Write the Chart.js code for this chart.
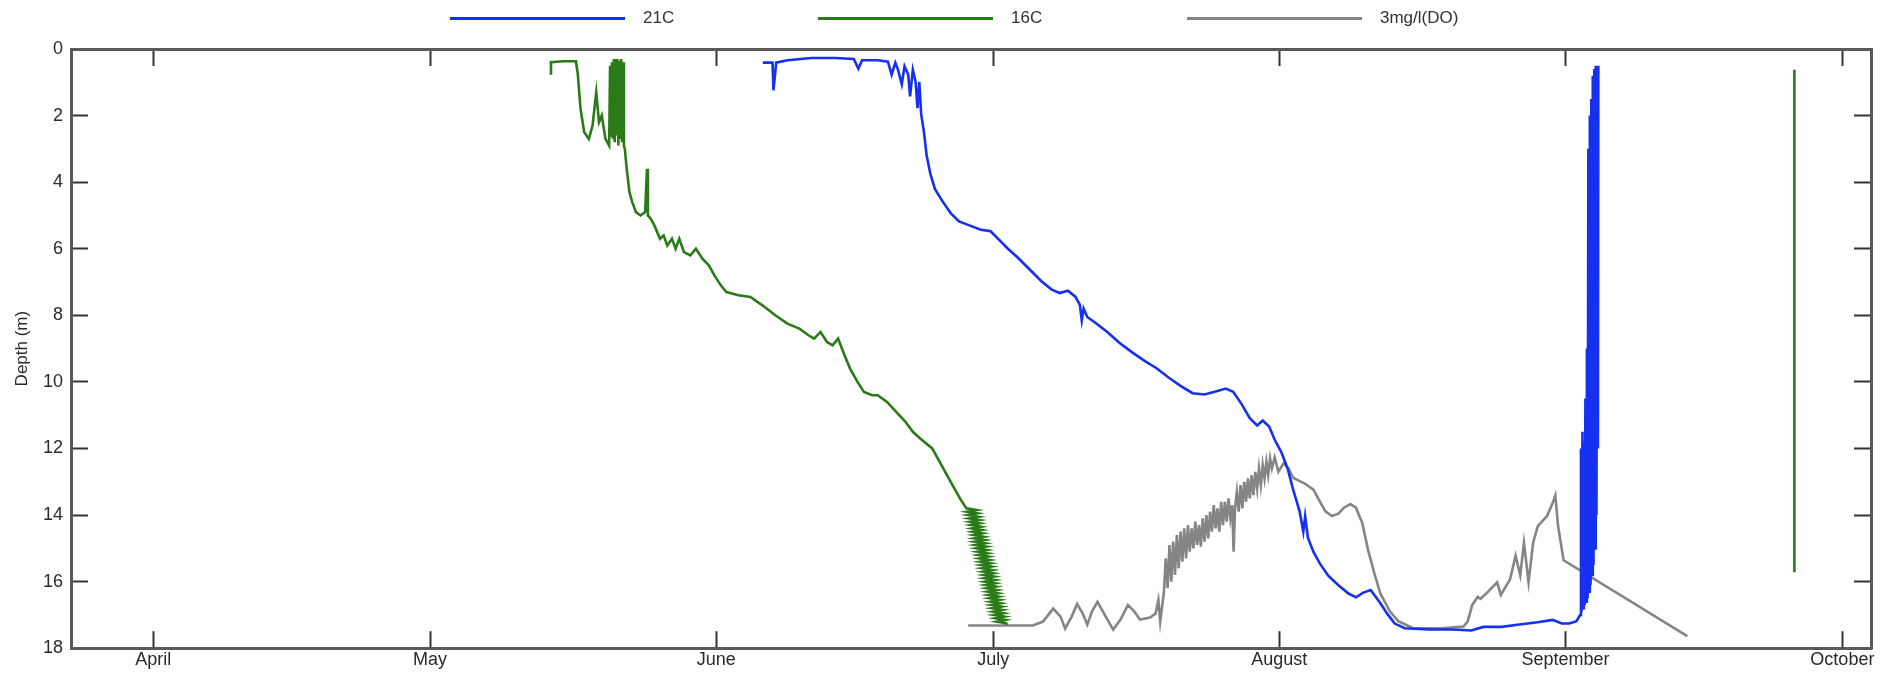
<!DOCTYPE html>
<html>
<head>
<meta charset="utf-8">
<script src="https://cdn.jsdelivr.net/npm/chart.js@4/dist/chart.umd.min.js"></script>
<style>
  body { margin: 0; background: #fff; }
  #wrap { position: relative; width: 1898px; height: 684px; }
  #legend { position: absolute; left: 0; top: 0; width: 1898px; height: 40px; }
  #legend .item {
    position: absolute; top: 8px; height: 20px;
    display: flex; align-items: center;
    font: 17px "Liberation Sans", Arial, sans-serif; color: #333;
  }
  #legend .swatch { display: inline-block; width: 175px; height: 3px; margin-right: 18px; }
</style>
</head>
<body>
<div id="wrap">
  <canvas id="depthChart" width="1898" height="684"></canvas>
  <div id="legend"></div>
</div>
<script>
// x values are days since 1 April
const monthStarts = [0, 30, 61, 91, 122, 153, 183];
const monthLabels = ["April", "May", "June", "July", "August", "September", "October"];
const depthTicks = [0, 2, 4, 6, 8, 10, 12, 14, 16, 18];

const seriesLabels = ["21C", "16C", "3mg/l(DO)"];
const seriesColors = ["#1530ee", "#2a7a18", "#858585"];

const blue21Days = [66.05, 67.1, 67.2, 67.5, 68.7, 71.3, 73.9, 75.9, 76.4, 76.8, 78.5, 79.6, 80.0, 80.4, 80.7, 81.1, 81.4, 81.8, 82.0, 82.3, 82.6, 82.8, 83.0, 83.2, 83.5, 83.8, 84.2, 84.7, 85.5, 86.4, 87.3, 88.35, 89.67, 90.7, 91.6, 92.6, 93.6, 94.9, 96.2, 97.3, 98.2, 99.1, 99.9, 100.4, 100.6, 100.8, 101.2, 102.1, 103.4, 104.7, 106.1, 107.4, 108.7, 110.0, 111.3, 112.6, 113.9, 115.3, 116.2, 117.0, 117.9, 118.8, 119.6, 120.2, 120.9, 121.5, 122.2, 122.9, 123.5, 124.2, 124.6, 124.8, 125.1, 125.7, 126.4, 127.3, 128.4, 129.5, 130.3, 131.1, 131.9, 132.95, 133.7, 134.5, 135.6, 138.2, 140.8, 142.8, 144.1, 146.1, 148.0, 150.0, 151.6, 152.6, 153.4, 154.2,
  154.6, 154.68, 154.76, 154.84, 154.92, 155.0, 155.08, 155.16, 155.24, 155.32, 155.4, 155.48, 155.56, 155.64, 155.72, 155.8, 155.88, 155.96, 156.04, 156.12, 156.2, 156.28, 156.36, 156.44, 156.52, 156.56];
const blue21Depth = [0.41, 0.41, 1.24, 0.41, 0.34, 0.27, 0.27, 0.30, 0.59, 0.34, 0.34, 0.38, 0.77, 0.41, 0.63, 1.06, 0.52, 0.77, 1.42, 0.63, 0.99, 1.78, 0.99, 1.95, 2.49, 3.21, 3.75, 4.21, 4.57, 4.93, 5.18, 5.29, 5.43, 5.47, 5.72, 6.0, 6.25, 6.61, 6.97, 7.22, 7.33, 7.26, 7.44, 7.69, 8.15, 7.8, 8.05, 8.23, 8.51, 8.83, 9.12, 9.37, 9.59, 9.87, 10.12, 10.34, 10.38, 10.27, 10.2, 10.3, 10.66, 11.09, 11.31, 11.16, 11.34, 11.74, 12.1, 12.6, 13.24, 13.89, 14.5, 14.03, 14.68, 15.11, 15.46, 15.82, 16.11, 16.36, 16.47, 16.33, 16.25, 16.65, 16.97, 17.26, 17.4, 17.44, 17.44, 17.47, 17.36, 17.36, 17.29, 17.22, 17.15, 17.26, 17.26, 17.19,
  17.0, 12.0, 16.9, 11.5, 16.8, 11.8, 16.7, 10.5, 16.6, 9.0, 16.5, 3.0, 16.3, 2.0, 16.1, 1.5, 15.8, 0.8, 15.5, 0.6, 15.0, 0.5, 14.0, 0.5, 12.0, 0.5];

const green16Days = [43.1, 43.1, 44.4, 45.8, 46.0, 46.3, 46.7, 47.2, 47.6, 48.0, 48.3, 48.6, 49.0,
  49.4, 49.5, 49.6, 49.7, 49.8, 49.9, 50.0, 50.1, 50.2, 50.3, 50.4, 50.5, 50.6, 50.7, 50.8, 50.9, 51.0,
  51.1, 51.3, 51.6, 51.9, 52.3, 52.8, 53.3, 53.5, 53.6, 53.9, 54.3, 54.9, 55.3, 55.7, 56.2, 56.6, 57.0, 57.5, 58.2, 58.8, 59.5, 60.2, 60.8, 61.5, 62.1, 63.4, 64.7, 66.0, 67.4, 68.7, 70.0, 71.0, 71.6, 72.3, 73.0, 73.6, 74.2, 74.9, 75.5, 76.3, 77.0, 77.9, 78.5, 79.5, 80.5, 81.5, 82.3, 83.1, 84.4, 85.4, 86.4, 87.4,
  88.1, 89.2, 88.2, 89.3, 88.3, 89.4, 88.4, 89.5, 88.5, 89.55, 88.6, 89.65, 88.7, 89.75, 88.8, 89.85, 88.9, 89.95, 88.95, 90.05, 89.0, 90.15, 89.1, 90.25, 89.2, 90.3, 89.3, 90.4, 89.4, 90.5, 89.5, 90.6, 89.6, 90.7, 89.7, 90.8, 89.8, 90.9, 89.9, 91.0, 90.0, 91.1, 90.05, 91.15, 90.1, 91.2, 90.2, 91.3, 90.3, 91.4, 90.4, 91.5, 90.5, 91.6, 90.6, 91.7, 90.7, 91.8, 90.8, 91.9, 90.9, 92.0, 91.0, 92.1, 91.1, 92.2, 91.25, 92.3, 91.4, 92.4, 92.5,
  135, 177.8, 177.8];
const green16Depth = [0.77, 0.40, 0.37, 0.37, 0.75, 1.8, 2.5, 2.7, 2.3, 1.3, 2.2, 2.0, 2.7,
  2.9, 0.5, 2.6, 0.4, 2.7, 0.3, 2.8, 0.3, 2.6, 0.3, 2.9, 0.35, 2.7, 0.3, 2.8, 0.4, 2.9,
  3.0, 3.6, 4.3, 4.6, 4.9, 5.0, 4.9, 3.6, 5.0, 5.1, 5.3, 5.7, 5.6, 5.9, 5.7, 6.0, 5.7, 6.1, 6.2, 6.0, 6.3, 6.5, 6.8, 7.1, 7.3, 7.4, 7.45, 7.7, 8.0, 8.25, 8.4, 8.6, 8.7, 8.5, 8.8, 8.9, 8.7, 9.2, 9.6, 10.0, 10.3, 10.4, 10.4, 10.6, 10.9, 11.2, 11.5, 11.7, 12.0, 12.5, 13.0, 13.5,
  13.8, 13.85, 13.9, 13.95, 14.0, 14.05, 14.1, 14.15, 14.2, 14.25, 14.3, 14.35, 14.4, 14.45, 14.5, 14.55, 14.6, 14.65, 14.7, 14.75, 14.8, 14.85, 14.9, 14.95, 15.0, 15.05, 15.1, 15.15, 15.2, 15.25, 15.3, 15.35, 15.4, 15.45, 15.5, 15.55, 15.6, 15.65, 15.7, 15.75, 15.8, 15.85, 15.9, 15.95, 16.0, 16.05, 16.1, 16.15, 16.2, 16.25, 16.3, 16.35, 16.4, 16.45, 16.5, 16.55, 16.6, 16.65, 16.7, 16.75, 16.8, 16.85, 16.9, 16.95, 17.0, 17.05, 17.1, 17.15, 17.2, 17.25, 17.3,
  null, 0.62, 15.72];

const grayDoDays = [88.3, 91.8, 95.3, 96.4, 97.5, 98.3, 98.8, 99.5, 100.1, 100.7, 101.2, 101.7, 102.3, 103.2, 104.0, 104.8, 105.6, 106.3, 106.9, 108.0, 108.6, 108.9, 109.1, 109.5,
  109.7, 109.9, 110.1, 110.3, 110.5, 110.7, 110.9, 111.1, 111.3, 111.5, 111.7, 111.9, 112.1, 112.3, 112.5, 112.7, 112.9, 113.1, 113.3, 113.5, 113.7, 113.9, 114.1, 114.3, 114.5, 114.7, 114.9, 115.1, 115.3, 115.5, 115.7, 115.9, 116.1, 116.3, 116.5, 116.7, 116.9,
  117.05,
  117.2, 117.4, 117.6, 117.8, 118.0, 118.2, 118.4, 118.6, 118.8, 119.0, 119.2, 119.4, 119.6, 119.8, 120.0, 120.2, 120.4, 120.6, 120.8, 121.0, 121.2,
  121.5, 121.9,
  122.46, 123.0, 123.5, 124.0, 124.8, 125.7, 126.4, 127.0, 127.7, 128.4, 129.0, 129.7, 130.3, 131.0, 131.6, 132.3, 132.95, 134.0, 134.9, 136.5, 139.5, 141.95, 142.4, 142.9, 143.5, 143.8, 144.6, 145.6, 146.0, 147.0, 147.6, 148.1, 148.5, 149.0, 149.5, 150.0, 150.3, 151.0, 151.6, 151.9, 152.2, 152.8, 166.2];
const grayDoDepth = [17.32, 17.32, 17.32, 17.2, 16.81, 17.05, 17.41, 17.05, 16.67, 16.96, 17.29, 16.9, 16.61, 17.05, 17.44, 17.14, 16.7, 16.9, 17.14, 17.08, 16.96, 16.55, 17.2, 16.31,
  15.3, 16.2, 14.9, 16.0, 14.8, 15.8, 14.6, 15.6, 14.5, 15.4, 14.4, 15.3, 14.3, 15.1, 14.4, 15.0, 14.2, 14.9, 14.3, 14.95, 14.1, 14.8, 14.0, 14.7, 13.9, 14.5, 13.7, 14.4, 13.8, 14.5, 13.6, 14.3, 13.6, 14.2, 13.5, 14.1, 13.7,
  15.1,
  13.8, 13.3, 13.9, 13.1, 13.8, 13.0, 13.6, 12.9, 13.5, 12.8, 13.4, 12.7, 13.2, 12.6, 13.1, 12.5, 12.9, 12.4, 12.8, 12.3, 12.6,
  12.27, 12.7,
  12.45, 12.6, 12.88, 12.95, 13.06, 13.24, 13.6, 13.89, 14.03, 13.96, 13.78, 13.67, 13.78, 14.25, 15.03, 15.75, 16.36, 16.9, 17.19, 17.4, 17.4, 17.35, 17.2, 16.7, 16.46, 16.52, 16.31, 16.02, 16.4, 15.93, 15.22, 15.81, 14.83, 16.02, 14.83, 14.33, 14.24, 14.03, 13.65, 13.41, 14.33, 15.36, 17.64];

const toPoints = (days, depths) => days.map((d, i) => ({ x: d, y: depths[i] }));

// html legend: line then label
const legendLeft = [450, 818, 1187];
const legendEl = document.getElementById("legend");
seriesLabels.forEach((label, i) => {
  const item = document.createElement("div");
  item.className = "item";
  item.style.left = legendLeft[i] + "px";
  item.innerHTML = '<span class="swatch" style="background:' + seriesColors[i] + '"></span><span>' + label + "</span>";
  legendEl.appendChild(item);
});

const axisColor = "#5a5a5a";
const tickFont = { size: 18 };
const monthTicks = (scale) => {
  scale.ticks = monthStarts.map((v) => ({ value: v }));
};
const depthTickList = (scale) => {
  scale.ticks = depthTicks.map((v) => ({ value: v }));
};
const grid = {
  drawOnChartArea: false,
  tickLength: -17,
  tickWidth: 2,
  tickColor: "#333",
};
const border = { display: true, color: axisColor, width: 3 };

const ctx = document.getElementById("depthChart");

new Chart(ctx, {
  type: "line",
  data: {
    datasets: [
      {
        label: seriesLabels[0],
        data: toPoints(blue21Days, blue21Depth),
        borderColor: seriesColors[0],
        borderWidth: 2.6,
        xAxisID: "x",
        yAxisID: "y",
      },
      {
        label: seriesLabels[1],
        data: toPoints(green16Days, green16Depth),
        borderColor: seriesColors[1],
        borderWidth: 2.6,
        xAxisID: "x",
        yAxisID: "y",
      },
      {
        label: seriesLabels[2],
        data: toPoints(grayDoDays, grayDoDepth),
        borderColor: seriesColors[2],
        borderWidth: 2.6,
        xAxisID: "x",
        yAxisID: "y",
      },
    ],
  },
  options: {
    responsive: false,
    animation: false,
    spanGaps: false,
    elements: {
      point: { radius: 0 },
      line: { tension: 0, fill: false },
    },
    layout: { padding: { top: 49, right: 27, left: 0, bottom: 0 } },
    plugins: {
      legend: { display: false },
      tooltip: { enabled: false },
    },
    scales: {
      x: {
        type: "linear",
        position: "bottom",
        min: -8.9,
        max: 186.1,
        afterBuildTicks: monthTicks,
        afterFit: (s) => { s.height = 27; },
        ticks: {
          autoSkip: false,
          maxRotation: 0,
          padding: 18,
          color: "#2a2a2a",
          font: tickFont,
          callback: (value, index) => monthLabels[index],
        },
        grid: grid,
        border: border,
      },
      x2: {
        type: "linear",
        position: "top",
        min: -8.9,
        max: 186.1,
        afterBuildTicks: monthTicks,
        afterFit: (s) => { s.height = 0; },
        ticks: { display: false },
        grid: grid,
        border: border,
      },
      y: {
        type: "linear",
        position: "left",
        reverse: true,
        min: 0,
        max: 18,
        afterBuildTicks: depthTickList,
        afterFit: (s) => { s.width = 71; },
        ticks: { padding: 25, color: "#2a2a2a", font: tickFont },
        title: {
          display: true,
          text: "Depth (m)",
          color: "#2a2a2a",
          font: { size: 17 },
          padding: { top: 12, bottom: 0 },
        },
        grid: grid,
        border: border,
      },
      y2: {
        type: "linear",
        position: "right",
        reverse: true,
        min: 0,
        max: 18,
        afterBuildTicks: depthTickList,
        afterFit: (s) => { s.width = 0; },
        ticks: { display: false },
        grid: grid,
        border: border,
      },
    },
  },
});
</script>
</body>
</html>
